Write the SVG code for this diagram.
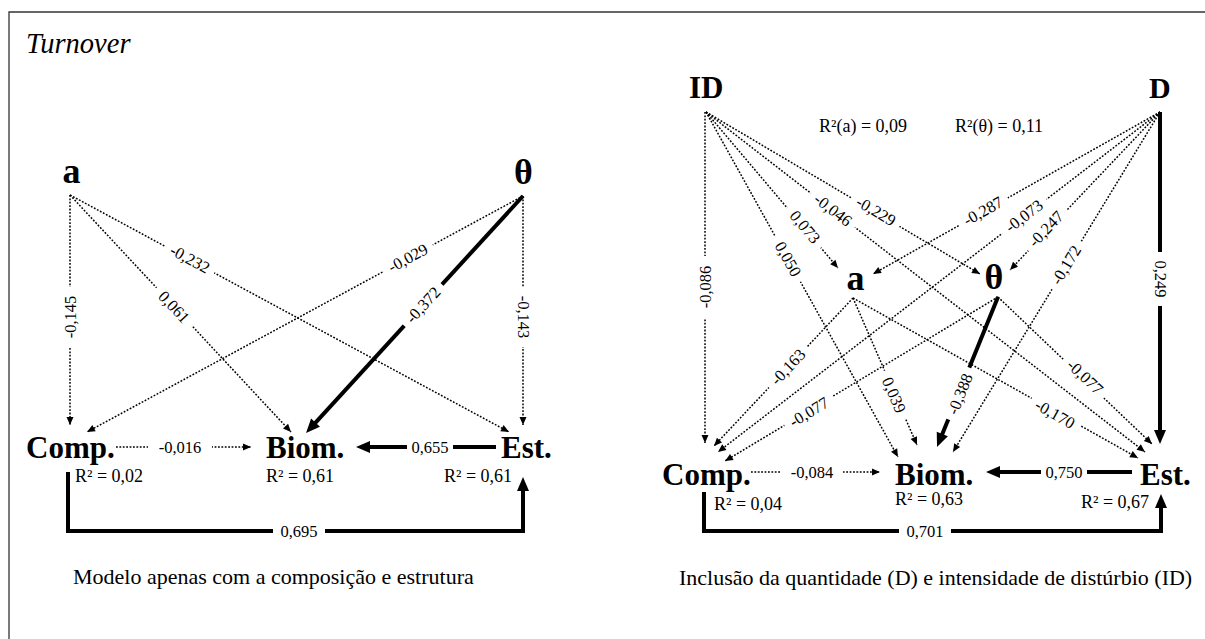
<svg xmlns="http://www.w3.org/2000/svg" width="1205" height="639" viewBox="0 0 1205 639">
<defs>
<style>
.d{fill:none;stroke:#000;stroke-width:1.5;stroke-dasharray:1.8 1.6;marker-end:url(#ad)}
.t{fill:none;stroke:#000;stroke-width:4;marker-end:url(#at)}
.t0{fill:none;stroke:#000;stroke-width:4}
.n{font-family:"Liberation Serif","Times New Roman",serif;font-weight:bold;fill:#000}
.r{font-family:"Liberation Serif","Times New Roman",serif;font-size:18px;fill:#000}
.l{font-family:"Liberation Serif","Times New Roman",serif;font-size:16.5px;fill:#000;text-anchor:middle}
.bg{fill:#fff}
.cap{font-family:"Liberation Serif","Times New Roman",serif;font-size:22px;fill:#000}
</style>
<marker id="ad" markerUnits="userSpaceOnUse" markerWidth="8" markerHeight="7" refX="8" refY="3.5" orient="auto" overflow="visible">
<path d="M0,0 L8,3.5 L0,7 Z" fill="#000"/>
</marker>
<marker id="at" markerUnits="userSpaceOnUse" markerWidth="14" markerHeight="12" refX="4" refY="6" orient="auto" overflow="visible">
<path d="M0,0 L14,6 L0,12 Z" fill="#000"/>
</marker>
</defs>
<rect width="1205" height="639" fill="#fff"/>
<path d="M9,639 V12 H1205" fill="none" stroke="#333" stroke-width="1.3"/>
<text x="26" y="53" font-family="Liberation Serif, Times New Roman, serif" font-style="italic" font-size="28.5">Turnover</text>

<g id="connectors">
<!-- left panel -->
<path class="d" d="M70,195 L70,425"/>
<path class="d" d="M70,195 L291,432"/>
<path class="d" d="M70,195 L509,432"/>
<path class="d" d="M523,196 L87,432"/>
<path class="t" d="M523,196 L312.8,425.6"/>
<path class="d" d="M523,196 L523,425"/>
<path class="d" d="M116,447 L251,447"/>
<path class="t" d="M496,447 L366,447"/>
<path class="t" d="M68,472 V531 H523 V487"/>
<!-- right panel -->
<path class="d" d="M705,112 L705,443"/>
<path class="d" d="M706,112 L838,268"/>
<path class="d" d="M706,112 L898,457"/>
<path class="d" d="M706,112 L980,274"/>
<path class="d" d="M706,112 L1145,452"/>
<path class="d" d="M1160,112 L873,274"/>
<path class="d" d="M1160,112 L1010,270"/>
<path class="d" d="M1160,112 L718,452"/>
<path class="d" d="M1160,112 L953,452"/>
<path class="t" d="M1160,112 L1160,434"/>
<path class="d" d="M853,298 L714,446"/>
<path class="d" d="M853,298 L917,445"/>
<path class="d" d="M853,298 L1138,458"/>
<path class="d" d="M998,297 L725,461"/>
<path class="t" d="M998,297 L940.8,437.7"/>
<path class="d" d="M998,297 L1152,444"/>
<path class="d" d="M751,472 L880,472"/>
<path class="t" d="M1132,472 L996,472"/>
<path class="t" d="M704,492 V531 H1161 V504"/>
</g>

<g id="connector-labels">
<!-- left -->
<g transform="translate(70,317) rotate(-90)"><rect class="bg" x="-30" y="-8" width="60" height="16"/><text class="l" y="5.5">-0,145</text></g>
<g transform="translate(523,317) rotate(90)"><rect class="bg" x="-30" y="-8" width="60" height="16"/><text class="l" y="5.5">-0,143</text></g>
<g transform="translate(174,307) rotate(47)"><rect class="bg" x="-26" y="-8" width="52" height="16"/><text class="l" y="5.5">0,061</text></g>
<g transform="translate(190,259) rotate(28.4)"><rect class="bg" x="-28" y="-8" width="56" height="16"/><text class="l" y="5.5">-0,232</text></g>
<g transform="translate(408,258) rotate(-28.4)"><rect class="bg" x="-28" y="-8" width="56" height="16"/><text class="l" y="5.5">-0,029</text></g>
<g transform="translate(423,305) rotate(-47.5)"><rect class="bg" x="-28" y="-9" width="56" height="18"/><text class="l" y="5.5">-0,372</text></g>
<g transform="translate(180,447)"><rect class="bg" x="-32" y="-8" width="64" height="16"/><text class="l" y="5.5">-0,016</text></g>
<g transform="translate(430,447)"><rect class="bg" x="-23" y="-8" width="46" height="16"/><text class="l" y="5.5">0,655</text></g>
<g transform="translate(299,531)"><rect class="bg" x="-26" y="-8" width="52" height="16"/><text class="l" y="5.5">0,695</text></g>
<!-- right -->
<g transform="translate(705,287) rotate(-90)"><rect class="bg" x="-31" y="-8" width="62" height="16"/><text class="l" y="5.5">-0,086</text></g>
<g transform="translate(805,227) rotate(49.8)"><rect class="bg" x="-26" y="-8" width="52" height="16"/><text class="l" y="5.5">0,073</text></g>
<g transform="translate(833,210) rotate(37.8)"><rect class="bg" x="-28" y="-8" width="56" height="16"/><text class="l" y="5.5">-0,046</text></g>
<g transform="translate(876,211) rotate(30.6)"><rect class="bg" x="-28" y="-8" width="56" height="16"/><text class="l" y="5.5">-0,229</text></g>
<g transform="translate(788,259) rotate(60.9)"><rect class="bg" x="-26" y="-8" width="52" height="16"/><text class="l" y="5.5">0,050</text></g>
<g transform="translate(983,211) rotate(-29.4)"><rect class="bg" x="-28" y="-8" width="56" height="16"/><text class="l" y="5.5">-0,287</text></g>
<g transform="translate(1024,216) rotate(-37.6)"><rect class="bg" x="-28" y="-8" width="56" height="16"/><text class="l" y="5.5">-0,073</text></g>
<g transform="translate(1046,229) rotate(-46.5)"><rect class="bg" x="-28" y="-8" width="56" height="16"/><text class="l" y="5.5">-0,247</text></g>
<g transform="translate(1066,265) rotate(-58.7)"><rect class="bg" x="-28" y="-8" width="56" height="16"/><text class="l" y="5.5">-0,172</text></g>
<g transform="translate(1160,279) rotate(90)"><rect class="bg" x="-27" y="-8" width="54" height="16"/><text class="l" y="5.5">0,249</text></g>
<g transform="translate(788,367) rotate(-46.8)"><rect class="bg" x="-28" y="-8" width="56" height="16"/><text class="l" y="5.5">-0,163</text></g>
<g transform="translate(894,395) rotate(66.5)"><rect class="bg" x="-26" y="-8" width="52" height="16"/><text class="l" y="5.5">0,039</text></g>
<g transform="translate(960,394) rotate(-67.9)"><rect class="bg" x="-28" y="-9" width="56" height="18"/><text class="l" y="5.5">-0,388</text></g>
<g transform="translate(809,412) rotate(-31)"><rect class="bg" x="-28" y="-8" width="56" height="16"/><text class="l" y="5.5">-0,077</text></g>
<g transform="translate(1085,377) rotate(43.7)"><rect class="bg" x="-28" y="-8" width="56" height="16"/><text class="l" y="5.5">-0,077</text></g>
<g transform="translate(1055,414) rotate(29.3)"><rect class="bg" x="-28" y="-8" width="56" height="16"/><text class="l" y="5.5">-0,170</text></g>
<g transform="translate(812,472)"><rect class="bg" x="-31" y="-8" width="62" height="16"/><text class="l" y="5.5">-0,084</text></g>
<g transform="translate(1064,472)"><rect class="bg" x="-23" y="-8" width="46" height="16"/><text class="l" y="5.5">0,750</text></g>
<g transform="translate(925,531)"><rect class="bg" x="-26" y="-8" width="52" height="16"/><text class="l" y="5.5">0,701</text></g>
</g>

<!-- left panel nodes -->
<g id="L-a"><text class="n" x="71.5" y="183" font-size="36" text-anchor="middle">a</text></g>
<g id="L-theta"><text class="n" x="523.5" y="184" font-size="36" text-anchor="middle">θ</text></g>
<g id="L-comp"><text class="n" x="26" y="458" font-size="31">Comp.</text><text class="r" x="75" y="482">R² = 0,02</text></g>
<g id="L-biom"><text class="n" x="266" y="458" font-size="31">Biom.</text><text class="r" x="266" y="482">R² = 0,61</text></g>
<g id="L-est"><text class="n" x="501" y="458" font-size="31">Est.</text><text class="r" x="444" y="482">R² = 0,61</text></g>
<text class="cap" x="73" y="584">Modelo apenas com a composição e estrutura</text>

<!-- right panel nodes -->
<g id="R-ID"><text class="n" x="689" y="98" font-size="31">ID</text></g>
<g id="R-D"><text class="n" x="1149" y="98" font-size="30">D</text></g>
<g id="R-a"><text class="n" x="855.5" y="290" font-size="36" text-anchor="middle">a</text><text class="r" x="819" y="132">R²(a) = 0,09</text></g>
<g id="R-theta"><text class="n" x="994" y="289" font-size="36" text-anchor="middle">θ</text><text class="r" x="955" y="132">R²(θ) = 0,11</text></g>
<g id="R-comp"><text class="n" x="662" y="485" font-size="31">Comp.</text><text class="r" x="714" y="510">R² = 0,04</text></g>
<g id="R-biom"><text class="n" x="895" y="485" font-size="31">Biom.</text><text class="r" x="895" y="505">R² = 0,63</text></g>
<g id="R-est"><text class="n" x="1140" y="485" font-size="31">Est.</text><text class="r" x="1081" y="508">R² = 0,67</text></g>
<text class="cap" x="679" y="585">Inclusão da quantidade (D) e intensidade de distúrbio (ID)</text>
</svg>
